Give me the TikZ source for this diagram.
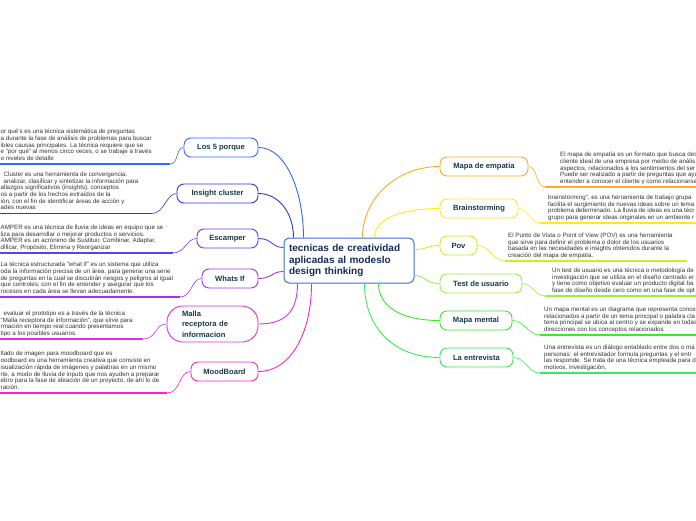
\documentclass[tikz,border=0pt]{standalone}
\usepackage{fontspec}
\setmainfont{Liberation Sans}
\definecolor{cA}{HTML}{3366FF}
\definecolor{cB}{HTML}{3333DD}
\definecolor{cC}{HTML}{5F3DF0}
\definecolor{cD}{HTML}{A033F0}
\definecolor{cE}{HTML}{E030E0}
\definecolor{cF}{HTML}{FF22CC}
\definecolor{cG}{HTML}{FFAA22}
\definecolor{cH}{HTML}{FFE81E}
\definecolor{cI}{HTML}{CCEE22}
\definecolor{cJ}{HTML}{99EE44}
\definecolor{cK}{HTML}{33EE22}
\definecolor{cL}{HTML}{33EE55}
\definecolor{cCen}{HTML}{3A6FD8}
\definecolor{labc}{HTML}{173A47}
\definecolor{cenc}{HTML}{142A5C}
\definecolor{detc}{HTML}{333333}
\begin{document}
\begin{tikzpicture}[x=1pt,y=-1pt,
  lbl/.style={draw=#1, rounded corners=7pt, line width=0.9pt, fill=white,
    font=\fontsize{7.6}{8.8}\selectfont\bfseries, text=labc, inner sep=0pt,
    minimum height=19pt},
  det/.style={font=\fontsize{6.2}{6.7}\selectfont, text=detc, align=left,
    inner sep=0pt, anchor=north west},
  con/.style={draw=#1, line width=0.9pt},
  ul/.style={draw=#1, line width=1.4pt},
  tie/.style={draw=#1, line width=0.6pt}
]
\useasboundingbox (0,0) rectangle (696,520);
\clip (0,0) rectangle (696,520);

% central node
\node[draw=cCen, line width=1pt, fill=white, rounded corners=5pt,
  minimum width=130pt, minimum height=45pt, text width=120pt, align=left,
  inner sep=0pt, font=\fontsize{10}{11.5}\selectfont\bfseries, text=cenc]
  (c) at (349,260.5) {tecnicas de creatividad\\aplicadas al modeslo\\design thinking};

% left labels
\node[lbl=cA, minimum width=74pt] (p5) at (221,147.5) {Los 5 porque};
\node[lbl=cB, minimum width=81pt] (ic) at (217.5,193.5) {Insight cluster};
\node[lbl=cC, minimum width=61pt] (es) at (227.5,238.5) {Escamper};
\node[lbl=cD, minimum width=56pt] (wi) at (230,278.5) {Whats If};
\node[lbl=cE, minimum width=91pt, minimum height=36pt, rounded corners=16pt,
  text width=61pt, align=left, font=\fontsize{7.6}{10.3}\selectfont\bfseries] (ma) at (212.5,324)
  {Malla\\receptora de\\informacion};
\node[lbl=cF, minimum width=67pt] (mb) at (224.5,371.5) {MoodBoard};

% right labels
\node[lbl=cG, minimum width=88pt] (me) at (484,166.5) {Mapa de empatia};
\node[lbl=cH, minimum width=78pt] (bs) at (479,208.5) {Brainstorming};
\node[lbl=cI, minimum width=37pt] (pv) at (458.5,245.5) {Pov};
\node[lbl=cJ, minimum width=82pt] (tu) at (481,283.5) {Test de usuario};
\node[lbl=cK, minimum width=72pt] (mm) at (476,320.5) {Mapa mental};
\node[lbl=cL, minimum width=73pt] (le) at (476.5,357.5) {La entrevista};

% connectors from the central node
\draw[con=cA] (p5.east) .. controls +(28,0) and +(0,-45) .. ([xshift=20pt]c.north west);
\draw[con=cB] (ic.east) .. controls +(20,0) and +(0,-25) .. ([xshift=10pt]c.north west);
\draw[con=cC] (es.east) .. controls +(14,0) and +(-12,0) .. ([yshift=-10pt]c.north west);
\draw[con=cD] (wi.east) .. controls +(14,0) and +(-12,0) .. ([yshift=12pt]c.south west);
\draw[con=cE] (ma.east) .. controls +(25,0) and +(0,30) .. ([xshift=14pt]c.south west);
\draw[con=cF] (mb.east) .. controls +(32,0) and +(0,50) .. ([xshift=28pt]c.south west);
\draw[con=cG] (me.west) .. controls +(-42,0) and +(0,-40) .. ([xshift=-52pt]c.north east);
\draw[con=cH] (bs.west) .. controls +(-35,0) and +(0,-20) .. ([xshift=-40pt]c.north east);
\draw[con=cI] (pv.west) .. controls +(-12,0) and +(12,0) .. ([yshift=-12pt]c.north east);
\draw[con=cJ] (tu.west) .. controls +(-15,0) and +(12,0) .. ([yshift=8pt]c.south east);
\draw[con=cK] (mm.west) .. controls +(-35,0) and +(0,25) .. ([xshift=-36pt]c.south east);
\draw[con=cL] (le.west) .. controls +(-45,0) and +(0,45) .. ([xshift=-50pt]c.south east);

% left detail texts
\node[det] (t5) at (0.5,128.8) {\strut or qué's es una técnica sistemática de preguntas\\
a durante la fase de análisis de problemas para buscar\\
ibles causas principales. La técnica requiere que se\\
e "por qué" al menos cinco veces, o se trabaje a través\\
o niveles de detalle};
\coordinate (u5a) at (0,164); \coordinate (u5b) at (170,164);
\draw[ul=cA] (u5a) -- (u5b);
\draw[tie=cA] (u5b) .. controls +(9,0) and +(-8,0) .. (p5.west);

\node[det] (tic) at (0.5,171.6) {\strut\hspace*{3pt}Cluster es una herramienta de convergencia.\\
\hspace*{3pt}analizar, clasificar y sintetizar la información para\\
allazgos significativos (insights), conceptos\\
os a partir de los hechos extraídos de la\\
ión, con el fin de identificar áreas de acción y\\
ades nuevas};
\coordinate (uica) at (0,213.5); \coordinate (uicb) at (152,213.5);
\draw[ul=cB] (uica) -- (uicb);
\draw[tie=cB] (uicb) .. controls +(12,0) and +(-10,0) .. (ic.west);

\node[det] (tes) at (0.5,224.6) {\strut AMPER es una técnica de lluvia de ideas en equipo que se\\
liza para desarrollar o mejorar productos o servicios.\\
AMPER es un acrónimo de Sustituir, Combinar, Adaptar,\\
dificar, Propósito, Elimina y Reorganizar};
\coordinate (uesa) at (0,253); \coordinate (uesb) at (173,253);
\draw[ul=cC] (uesa) -- (uesb);
\draw[tie=cC] (uesb) .. controls +(12,0) and +(-10,0) .. (es.west);

\node[det] (twi) at (0.5,261.8) {\strut La técnica estructurada "what if" es un sistema que utiliza\\
oda la información precisa de un área, para generar una serie\\
de preguntas en la cual se discutirán riesgos y peligros al igual\\
que controles; con el fin de entender y asegurar que los\\
rocesos en cada área se llevan adecuadamente.};
\coordinate (uwia) at (0,297); \coordinate (uwib) at (180,297);
\draw[ul=cD] (uwia) -- (uwib);
\draw[tie=cD] (uwib) .. controls +(12,0) and +(-10,0) .. (wi.west);

\node[det] (tma) at (0.5,310.6) {\strut\hspace*{3pt}evaluar el prototipo es a través de la técnica\\
“Malla receptora de información”, que sirve para\\
rmación en tiempo real cuando presentamos\\
tipo a los posibles usuarios.};
\coordinate (umaa) at (0,339); \coordinate (umab) at (143,339);
\draw[ul=cE] (umaa) -- (umab);
\draw[tie=cE] (umab) .. controls +(14,0) and +(-12,0) .. (ma.west);

\node[det] (tmb) at (0.5,351.1) {\strut ltado de imagen para moodboard que es\\
oodboard es una herramienta creativa que consiste en\\
isualización rápida de imágenes y palabras en un mismo\\
rte, a modo de lluvia de inputs que nos ayuden a preparar\\
ebro para la fase de ideación de un proyecto, de ahí lo de\\
ración.};
\coordinate (umba) at (0,393); \coordinate (umbb) at (167,393);
\draw[ul=cF] (umba) -- (umbb);
\draw[tie=cF] (umbb) .. controls +(14,0) and +(-12,0) .. (mb.west);

% right detail texts
\node[det] (tme) at (560,151.8) {\strut El mapa de empatía es un formato que busca des\\
cliente ideal de una empresa por medio de anális\\
aspectos, relacionados a los sentimientos del ser\\
Puede ser realizado a partir de preguntas que ayu\\
entender a conocer el cliente y como relacionarse};
\coordinate (umea) at (545,187); \coordinate (umeb) at (696,187);
\draw[tie=cG] (me.east) .. controls +(9,0) and +(-9,0) .. (umea);
\draw[ul=cG] (umea) -- (umeb);

\node[det] (tbs) at (548,194.6) {\strut brainstorming", es una herramienta de trabajo grupa\\
facilita el surgimiento de nuevas ideas sobre un tema\\
problema determinado. La lluvia de ideas es una técr\\
grupo para generar ideas originales en un ambiente r};
\coordinate (ubsa) at (540,223); \coordinate (ubsb) at (696,223);
\draw[tie=cH] (bs.east) .. controls +(9,0) and +(-9,0) .. (ubsa);
\draw[ul=cH] (ubsa) -- (ubsb);

\node[det] (tpv) at (508,232.6) {\strut El Punto de Vista o Point of View (POV) es una herramienta\\
que sirve para definir el problema o dolor de los usuarios\\
basada en las necesidades e insights obtenidos durante la\\
creación del mapa de empatía.};
\coordinate (upva) at (505,261); \coordinate (upvb) at (687,261);
\draw[tie=cI] (pv.east) .. controls +(12,0) and +(-12,0) .. (upva);
\draw[ul=cI] (upva) -- (upvb);

\node[det] (ttu) at (552,267.6) {\strut Un test de usuario es una técnica o metodología de\\
investigación que se utiliza en el diseño centrado er\\
y tiene como objetivo evaluar un producto digital ba\\
fase de diseño desde cero como en una fase de opt};
\coordinate (utua) at (545,296); \coordinate (utub) at (696,296);
\draw[tie=cJ] (tu.east) .. controls +(10,0) and +(-10,0) .. (utua);
\draw[ul=cJ] (utua) -- (utub);

\node[det] (tmm) at (544,306.6) {\strut Un mapa mental es un diagrama que representa concep\\
relacionados a partir de un tema principal o palabra cla\\
tema principal se ubica al centro y se expande en todas\\
direcciones con los conceptos relacionados};
\coordinate (umma) at (540,335); \coordinate (ummb) at (696,335);
\draw[tie=cK] (mm.east) .. controls +(12,0) and +(-12,0) .. (umma);
\draw[ul=cK] (umma) -- (ummb);

\node[det] (tle) at (544,344.6) {\strut Una entrevista es un diálogo entablado entre dos o má\\
personas: el entrevistador formula preguntas y el entr\\
las responde. Se trata de una técnica empleada para d\\
motivos, investigación,};
\coordinate (ulea) at (540,373); \coordinate (uleb) at (696,373);
\draw[tie=cL] (le.east) .. controls +(12,0) and +(-12,0) .. (ulea);
\draw[ul=cL] (ulea) -- (uleb);
\end{tikzpicture}
\end{document}
